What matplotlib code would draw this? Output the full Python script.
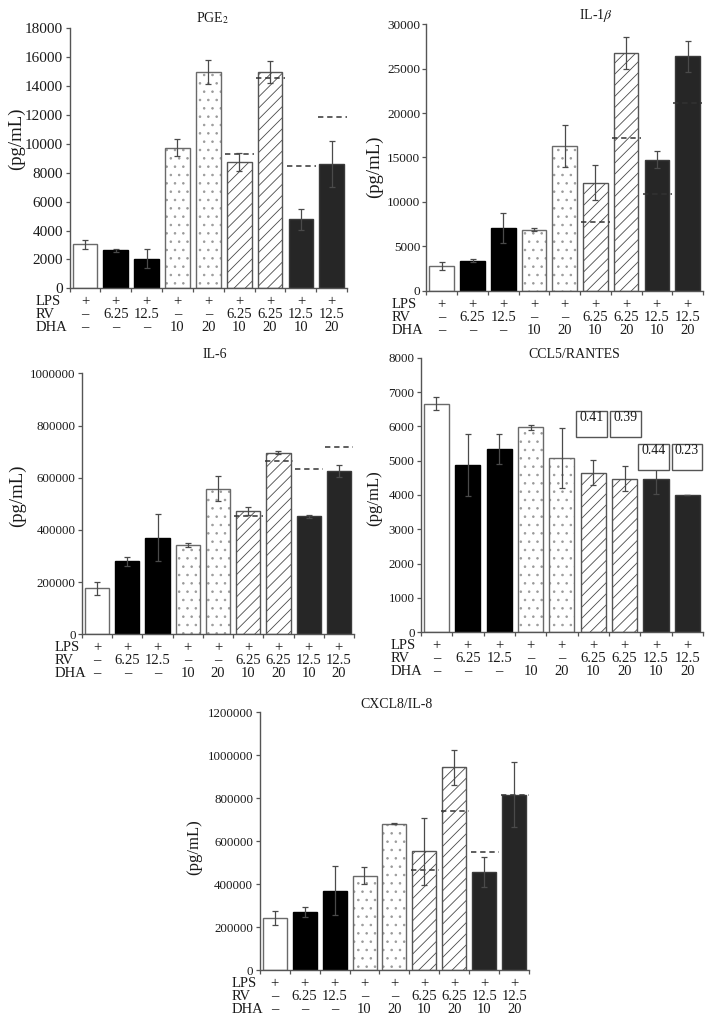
import matplotlib
matplotlib.use("Agg")
import matplotlib.pyplot as plt
import matplotlib.transforms as mtransforms
from matplotlib.patches import Rectangle
import numpy as np

plt.rcParams['font.family'] = ['Liberation Serif', 'DejaVu Serif']
plt.rcParams['mathtext.fontset'] = 'stix'
plt.rcParams['hatch.linewidth'] = 0.6

# ---------------- data ----------------
LPS = ['+'] * 9
RV = ['–', '6.25', '12.5', '–', '–', '6.25', '6.25', '12.5', '12.5']
DHA = ['–', '–', '–', '10', '20', '10', '20', '10', '20']
row_names = ['LPS', 'RV', 'DHA']

pge2 = [3050, 2630, 2050, 9740, 14980, 8750, 14980, 4780, 8610]
pge2_err = [320, 120, 650, 580, 830, 620, 760, 720, 1570]
pge2_exp = [None, None, None, None, None, 9320, 14540, 8490, 11860]

il1b = [2780, 3380, 7100, 6880, 16280, 12180, 26770, 14740, 26390]
il1b_err = [400, 200, 1700, 200, 2400, 1950, 1800, 950, 1750]
il1b_exp = [None, None, None, None, None, 7700, 17200, 10860, 21100]

il6 = [176000, 280000, 370000, 343000, 558000, 471000, 695000, 453000, 625000]
il6_err = [26000, 18000, 91000, 8000, 47000, 15000, 6000, 6000, 22000]
il6_exp = [None, None, None, None, None, 455000, 663000, 635000, 716000]

ccl5 = [6660, 4874, 5340, 5971, 5068, 4650, 4476, 4456, 4010]
ccl5_err = [185, 910, 430, 70, 875, 370, 360, 440, 0]
ccl5_ratio = [None, None, None, None, None, '0.41', '0.39', '0.44', '0.23']

cxcl8 = [243000, 271000, 370500, 440000, 682000, 553000, 944000, 456000, 817000]
cxcl8_err = [31000, 25000, 115000, 40000, 3000, 155000, 80000, 70000, 150000]
cxcl8_exp = [None, None, None, None, None, 467000, 741000, 552000, 817000]

W, H = 712, 1022
fig = plt.figure(figsize=(W / 100, H / 100), dpi=100)

styles = [
    dict(facecolor='white', edgecolor='#6a6a6a', hatch=None, hcol=None),
    dict(facecolor='black', edgecolor='black', hatch=None, hcol=None),
    dict(facecolor='black', edgecolor='black', hatch=None, hcol=None),
    dict(facecolor='white', edgecolor='#6a6a6a', hatch='..', hcol='#9a9a9a'),
    dict(facecolor='white', edgecolor='#6a6a6a', hatch='..', hcol='#9a9a9a'),
    dict(facecolor='white', edgecolor='#555555', hatch='///', hcol='#4a4a4a'),
    dict(facecolor='white', edgecolor='#555555', hatch='///', hcol='#4a4a4a'),
    dict(facecolor='#262626', edgecolor='#3a3a3a', hatch=None, hcol=None),
    dict(facecolor='#262626', edgecolor='#3a3a3a', hatch=None, hcol=None),
]


def make_panel(l, r, t, b, vals, errs, ymax, ystep, title, title_xy,
               ylabel_xy, row_x, tick_fs, ylabel_fs, exp=None):
    ax = fig.add_axes([l / W, 1 - b / H, (r - l) / W, (b - t) / H])
    x = np.arange(len(vals))
    for i in x:
        st = styles[i]
        if st['hatch']:
            ax.bar(i, vals[i], width=0.8, facecolor=st['facecolor'],
                   edgecolor=st['hcol'], hatch=st['hatch'], linewidth=0,
                   zorder=2)
            ax.bar(i, vals[i], width=0.8, fill=False,
                   edgecolor=st['edgecolor'], linewidth=1.0, zorder=2.1)
        else:
            ax.bar(i, vals[i], width=0.8, facecolor=st['facecolor'],
                   edgecolor=st['edgecolor'], linewidth=1.0, zorder=2)
    if exp is not None:
        for i, v in enumerate(exp):
            if v is not None:
                ax.hlines(v, i - 0.46, i + 0.48, colors='#333333',
                          linestyles=(0, (3.5, 2.5)), linewidth=1.1, zorder=3)
    ax.errorbar(x, vals, yerr=errs, fmt='none', ecolor='#4a4a4a',
                elinewidth=0.9, capsize=2.2, capthick=0.9, zorder=4)
    ax.set_xlim(-0.5, len(vals) - 0.5)
    ax.set_ylim(0, ymax)
    ax.set_yticks(np.arange(0, ymax + 1, ystep))
    ax.set_yticklabels([str(int(v)) for v in np.arange(0, ymax + 1, ystep)])
    ax.set_xticks(np.arange(-0.5, len(vals), 1.0))
    ax.set_xticklabels([])
    for s in ['top', 'right']:
        ax.spines[s].set_visible(False)
    for s in ['left', 'bottom']:
        ax.spines[s].set_color('#555555')
        ax.spines[s].set_linewidth(1.0)
    ax.tick_params(axis='y', direction='out', length=3, width=0.9,
                   color='#555555', labelsize=tick_fs, pad=1.5,
                   labelcolor='#1a1a1a')
    ax.tick_params(axis='x', direction='out', length=3, width=0.9,
                   color='#555555')
    ax.patch.set_visible(False)
    fig.text(title_xy[0] / W, 1 - title_xy[1] / H, title, ha='center',
             va='center', fontsize=10, color='#1a1a1a')
    fig.text(ylabel_xy[0] / W, 1 - ylabel_xy[1] / H, '(pg/mL)',
             rotation=90, ha='center', va='center', fontsize=ylabel_fs,
             color='#1a1a1a')
    trans = mtransforms.blended_transform_factory(ax.transData, fig.transFigure)
    offs = [13.5, 26.5, 39.5]
    for name, row, off in zip(row_names, [LPS, RV, DHA], offs):
        yy = 1 - (b + off) / H
        fig.text(row_x / W, yy, name, ha='left', va='center', fontsize=10.5,
                 color='#1a1a1a')
        for i, lab in enumerate(row):
            ax.text(i, yy, lab, transform=trans, ha='center', va='center',
                    fontsize=10.5, color='#1a1a1a')
    return ax


make_panel(69.5, 347.2, 28.3, 288.3, pge2, pge2_err, 18000, 2000,
           'PGE$_2$', (213, 18), (16, 139), 36, 11, 13.5, exp=pge2_exp)
make_panel(426.4, 703, 24.3, 290.7, il1b, il1b_err, 30000, 5000,
           'IL-1$\\beta$', (596, 16), (374, 167), 392, 9.5, 13.5, exp=il1b_exp)
make_panel(82, 354, 373.3, 634.3, il6, il6_err, 1000000, 200000,
           'IL-6', (215, 355), (17, 496), 55, 9.3, 13.5, exp=il6_exp)
ax4 = make_panel(420.8, 703, 357.7, 632.3, ccl5, ccl5_err, 8000, 1000,
                 'CCL5/RANTES', (574, 355), (374, 498), 391, 9.3, 12)
make_panel(259.5, 529.5, 712.3, 970.3, cxcl8, cxcl8_err, 1200000, 200000,
           'CXCL8/IL-8', (397, 704), (194, 847), 232, 9.3, 12, exp=cxcl8_exp)

# ratio boxes on CCL5 panel
box_lo = [None, None, None, None, None, 5680, 5680, 4730, 4730]
box_hi = [None, None, None, None, None, 6450, 6450, 5500, 5500]
box_x0 = [None, None, None, None, None, 4.45, 5.53, 6.44, 7.50]
for i, lab in enumerate(ccl5_ratio):
    if lab is None:
        continue
    rect = Rectangle((box_x0[i], box_lo[i]), 0.98, box_hi[i] - box_lo[i],
                     facecolor='white', edgecolor='#555555', linewidth=1.0,
                     zorder=5, clip_on=False)
    ax4.add_patch(rect)
    ax4.text(box_x0[i] + 0.49, box_hi[i] - 200, lab, ha='center',
             va='center', fontsize=10, color='#1a1a1a', zorder=6)

fig.savefig('out.png', dpi=100)
